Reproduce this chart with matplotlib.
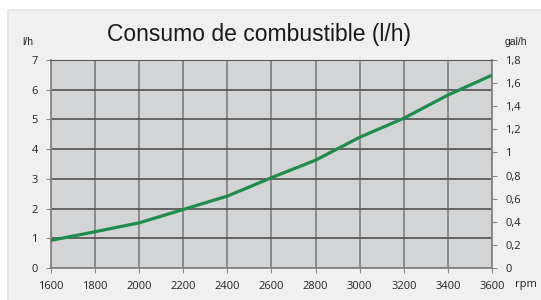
import matplotlib.pyplot as plt
from matplotlib.patches import Rectangle

rpm = [1600, 1800, 2000, 2200, 2400, 2600, 2800, 3000, 3200, 3400, 3600]
consumo = [0.93, 1.22, 1.52, 1.97, 2.42, 3.04, 3.63, 4.40, 5.04, 5.82, 6.49]
left_ticks = [0, 1, 2, 3, 4, 5, 6, 7]
right_ticks = [0, 0.2, 0.4, 0.6, 0.8, 1.0, 1.2, 1.4, 1.6, 1.8]
right_labels = ['0', '0,2', '0,4', '0,6', '0,8', '1', '1,2', '1,4', '1,6', '1,8']

tick_font = ['Open Sans', 'DejaVu Sans']
fig = plt.figure(figsize=(5.41, 3.0), dpi=100, facecolor='white')
# panel background
fig.patches.append(Rectangle((8/541, -0.01), 1, 1 - 10/300 + 0.01, transform=fig.transFigure,
                             facecolor='#f0f0f0', edgecolor='#e2e2e2', lw=1.2, zorder=-1))

ax = fig.add_axes([51/541, 32/300, 441/541, 208/300])
ax.set_facecolor('#d3d4d6')
ax.plot(rpm, consumo, color='#1f8c47', lw=2.3, solid_capstyle='round', zorder=3)
ax.set_xlim(1600, 3600)
ax.set_ylim(0, 7)
ax.set_xticks(rpm)
ax.set_yticks(left_ticks)
ax.grid(axis='x', color='#858585', lw=1.3)
ax.grid(axis='y', color='#5a5a5a', lw=1.3)
ax.set_axisbelow(True)
ax.spines['top'].set_color('#5a5a5a')
for s in ['left', 'bottom', 'right']:
    ax.spines[s].set_color('#858585')
    ax.spines[s].set_linewidth(1.3)
ax.tick_params(length=3.5, width=0.8, color='#858585', labelsize=8, labelcolor='#222222', pad=6)
for lab in ax.get_xticklabels() + ax.get_yticklabels():
    lab.set_family(tick_font)

ax2 = ax.twinx()
ax2.set_ylim(0, 1.8)
ax2.set_yticks(right_ticks)
ax2.set_yticklabels(right_labels)
ax2.tick_params(length=3.5, width=0.8, color='#858585', labelsize=8, labelcolor='#222222', pad=6)
for lab in ax2.get_yticklabels():
    lab.set_family(tick_font)
for s in ax2.spines.values():
    s.set_visible(False)

fig.text(259/541, 1 - 34/300, 'Consumo de combustible (l/h)', ha='center', va='center',
         fontsize=16.5, family=['Liberation Sans', 'DejaVu Sans'], color='#1a1a1a')
fig.text(28/541, 1 - 42/300, 'l/h', ha='center', va='center', fontsize=7.5,
         family=['Liberation Sans', 'DejaVu Sans'], color='#222222')
fig.text(516/541, 1 - 42/300, 'gal/h', ha='center', va='center', fontsize=7.5,
         family=['Liberation Sans', 'DejaVu Sans'], color='#222222')
fig.text(526/541, 1 - 284/300, 'rpm', ha='center', va='center', fontsize=8,
         family=tick_font, color='#222222')

fig.savefig('out.png', dpi=100, facecolor=fig.get_facecolor())
